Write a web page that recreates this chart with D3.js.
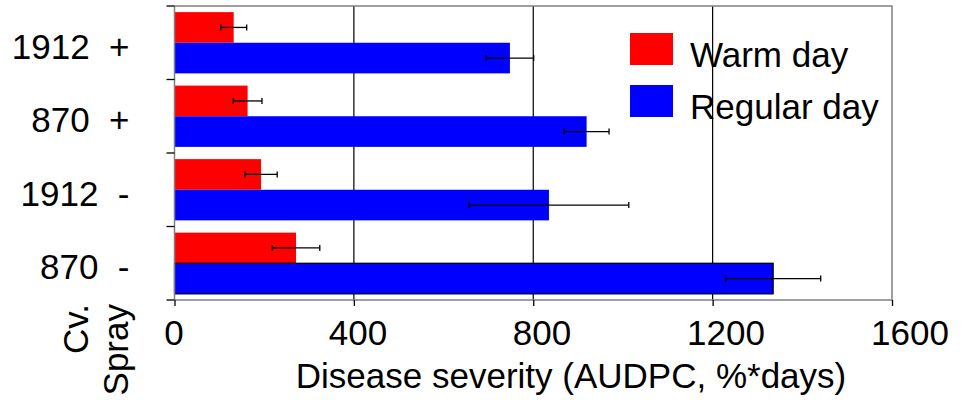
<!DOCTYPE html>
<html>
<head>
<meta charset="utf-8">
<script src="https://cdn.jsdelivr.net/npm/d3@7"></script>
<style>
  body { margin: 0; background: #fff; }
  text { font-family: "Liberation Sans", Arial, sans-serif; fill: #000; }
</style>
</head>
<body>
<div id="container"></div>
<script>

// values
var categories  = ["1912  +", "870  +", "1912  -", "870  -"];
var series      = ["Warm day", "Regular day"];
var warm        = [132, 163, 193, 271];
var warmErr     = [29, 32, 36, 53];
var regular     = [748, 919, 835, 1335];
var regularErr  = [53, 50, 178, 106];
var xTicks      = [0, 400, 800, 1200, 1600];
var colors      = ["#ff0000", "#0000ff"];

var width = 966, height = 400;
var margin = {top: 6, right: 74, bottom: 100, left: 174.5};
var plotW = width - margin.left - margin.right,
    plotH = height - margin.top - margin.bottom;
var fontSize = 35;

var svg = d3.select("#container")
  .append("svg")
  .attr("width", width)
  .attr("height", height);

var g = svg.append("g")
  .attr("transform", "translate(" + margin.left + "," + margin.top + ")");

var x = d3.scaleLinear()
  .domain([0, 1600])
  .range([0, plotW]);

// excel spreads the tick labels a little wider than the ticks themselves
var xLabel = d3.scaleLinear()
  .domain([0, 1600])
  .range([-1, plotW + 17.5]);

var y = d3.scaleBand()
  .domain(categories)
  .range([0, plotH]);

var y1 = d3.scaleBand()
  .domain(series)
  .range([0, y.bandwidth()])
  .paddingOuter(0.2);

var z = d3.scaleOrdinal().domain(series).range(colors);

// gridlines
g.append("g")
  .selectAll("line")
  .data(xTicks.slice(1, -1))
  .enter().append("line")
  .attr("x1", function(d) { return x(d); })
  .attr("x2", function(d) { return x(d); })
  .attr("y1", 0)
  .attr("y2", plotH)
  .attr("stroke", "#000")
  .attr("stroke-width", 1.2);

// frame top / right
g.append("path")
  .attr("d", "M0,0H" + plotW + "V" + plotH)
  .attr("fill", "none")
  .attr("stroke", "#808080")
  .attr("stroke-width", 1.5);

var rows = categories.map(function(c, i) {
  return {cat: c, values: [
    {key: series[0], v: warm[i], e: warmErr[i]},
    {key: series[1], v: regular[i], e: regularErr[i]}
  ]};
});

var groups = g.append("g")
  .selectAll("g")
  .data(rows)
  .enter().append("g")
  .attr("transform", function(d) { return "translate(0," + y(d.cat) + ")"; });

groups.selectAll("rect")
  .data(function(d) { return d.values; })
  .enter().append("rect")
  .attr("x", 0)
  .attr("y", function(d) { return y1(d.key); })
  .attr("width", function(d) { return x(d.v); })
  .attr("height", y1.bandwidth())
  .attr("fill", function(d) { return z(d.key); });

// the last regular bar is outlined in the original
groups.filter(function(d, i) { return i === categories.length - 1; })
  .select("rect:last-of-type")
  .attr("stroke", "#000")
  .attr("stroke-width", 1.2);

// error bars
var err = groups.selectAll("g.err")
  .data(function(d) { return d.values; })
  .enter().append("g")
  .attr("class", "err")
  .attr("stroke", "#000")
  .attr("stroke-width", 1.3);

err.append("line")
  .attr("x1", function(d) { return x(d.v - d.e); })
  .attr("x2", function(d) { return x(d.v + d.e); })
  .attr("y1", function(d) { return y1(d.key) + y1.bandwidth() / 2; })
  .attr("y2", function(d) { return y1(d.key) + y1.bandwidth() / 2; });

err.selectAll("line.cap")
  .data(function(d) { return [d.v - d.e, d.v + d.e].map(function(t) { return {t: t, key: d.key}; }); })
  .enter().append("line")
  .attr("class", "cap")
  .attr("x1", function(d) { return x(d.t); })
  .attr("x2", function(d) { return x(d.t); })
  .attr("y1", function(d) { return y1(d.key) + y1.bandwidth() / 2 - 3; })
  .attr("y2", function(d) { return y1(d.key) + y1.bandwidth() / 2 + 3; });

// y axis: grey line, black ticks at category borders
g.append("line")
  .attr("x1", 0).attr("x2", 0)
  .attr("y1", 0).attr("y2", plotH)
  .attr("stroke", "#808080")
  .attr("stroke-width", 1.5);

g.append("g")
  .selectAll("line")
  .data(d3.range(categories.length + 1))
  .enter().append("line")
  .attr("x1", -8).attr("x2", 0)
  .attr("y1", function(i) { return i * y.step(); })
  .attr("y2", function(i) { return i * y.step(); })
  .attr("stroke", "#000")
  .attr("stroke-width", 1.3);

g.append("g")
  .selectAll("text")
  .data(categories)
  .enter().append("text")
  .attr("x", -45)
  .attr("y", function(d) { return y(d) + y.bandwidth() / 2 + 16; })
  .attr("text-anchor", "end")
  .attr("font-size", fontSize)
  .style("white-space", "pre")
  .text(function(d) { return d; });

// x axis
g.append("line")
  .attr("x1", 0).attr("x2", plotW)
  .attr("y1", plotH).attr("y2", plotH)
  .attr("stroke", "#808080")
  .attr("stroke-width", 1.5);

g.append("g")
  .attr("transform", "translate(0," + plotH + ")")
  .call(d3.axisBottom(x).tickValues(xTicks).tickSize(6).tickFormat(""))
  .call(function(a) { a.select(".domain").remove(); })
  .selectAll("line")
  .attr("stroke", "#000")
  .attr("stroke-width", 1.3);

g.append("g")
  .attr("transform", "translate(0," + plotH + ")")
  .call(d3.axisBottom(xLabel).tickValues(xTicks).tickSize(0).tickPadding(0).tickFormat(d3.format("d")))
  .call(function(a) { a.select(".domain").remove(); })
  .selectAll("text")
  .attr("fill", "#000")
  .attr("font-size", fontSize)
  .attr("y", 45)
  .attr("dy", 0);

svg.selectAll(".tick text").style("font-family", "'Liberation Sans', Arial, sans-serif");

svg.append("text")
  .attr("x", 571)
  .attr("y", 388)
  .attr("text-anchor", "middle")
  .attr("font-size", fontSize)
  .text("Disease severity (AUDPC, %*days)");

// Cv. / Spray, rotated
svg.append("text")
  .attr("transform", "translate(88,304) rotate(-90)")
  .attr("text-anchor", "end")
  .attr("font-size", fontSize)
  .text("Cv.");

svg.append("text")
  .attr("transform", "translate(128,304) rotate(-90)")
  .attr("text-anchor", "end")
  .attr("font-size", fontSize)
  .text("Spray");

// legend
var legend = svg.append("g")
  .selectAll("g")
  .data(series)
  .enter().append("g")
  .attr("transform", function(d, i) { return "translate(630," + (33 + i * 52) + ")"; });

legend.append("rect")
  .attr("width", 43)
  .attr("height", 32)
  .attr("fill", z);

legend.append("text")
  .attr("x", 60)
  .attr("y", 34)
  .attr("font-size", fontSize)
  .text(function(d) { return d; });

</script>
</body>
</html>
